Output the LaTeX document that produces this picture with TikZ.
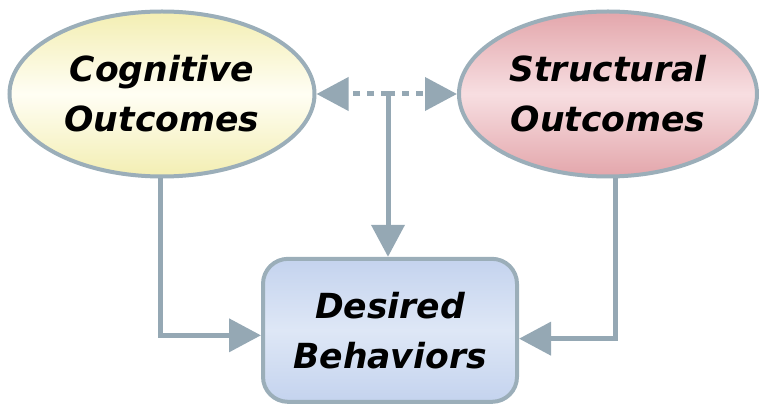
\documentclass[tikz,border=0pt]{standalone}
\usepackage{fontspec}
\setmainfont{DejaVu Sans}
\usetikzlibrary{shapes.geometric,arrows.meta}
\definecolor{linkgray}{HTML}{95A8B4}
\definecolor{rimgray}{HTML}{9BAEB9}
\definecolor{cogedge}{HTML}{F3EEB2}
\definecolor{cogmid}{HTML}{FFFEF4}
\definecolor{stredge}{HTML}{E3A6AB}
\definecolor{strmid}{HTML}{F7DEE1}
\definecolor{behedge}{HTML}{C4D3EE}
\definecolor{behmid}{HTML}{DEE7F6}
\tikzset{
  outcome/.style={ellipse, draw=rimgray, line width=0.12cm, inner sep=0pt,
    minimum height=4.95cm, align=center, font=\fontsize{29.5}{42.5}\selectfont\bfseries\itshape},
  cogfill/.style={top color=cogedge, bottom color=cogedge, middle color=cogmid},
  strfill/.style={top color=stredge, bottom color=stredge, middle color=strmid},
  behavior/.style={rectangle, rounded corners=0.75cm, draw=rimgray, line width=0.12cm,
    minimum width=7.62cm, minimum height=4.29cm, align=center,
    top color=behedge, bottom color=behedge, middle color=behmid,
    font=\fontsize{29.5}{42.5}\selectfont\bfseries\itshape},
  link/.style={draw=linkgray, line width=0.15cm, -{Triangle[length=0.96cm,width=0.98cm]}},
  dotlink/.style={link, dash pattern=on 0.2cm off 0.22cm},
}

\begin{document}
\begin{tikzpicture}
\useasboundingbox (0,0) rectangle (22.77,12.15);
\node[outcome, cogfill, minimum width=9.15cm] (cog) at (4.86,9.33) {Cognitive\\Outcomes};
\node[outcome, strfill, minimum width=8.94cm] (str) at (18.24,9.33) {Structural\\Outcomes};
\node[behavior] (beh) at (11.70,2.24) {Desired\\Behaviors};
\coordinate (hub) at (11.64,9.33);
\draw[dotlink] (hub) -- (cog);
\draw[dotlink] (hub) -- (str);
\draw[link] (hub) -- (hub |- beh.north);
\draw[link] ([xshift=-0.06cm]cog.south) |- ([yshift=-0.15cm]beh.west);
\draw[link] ([xshift=0.21cm]str.south) |- ([yshift=-0.25cm]beh.east);
\end{tikzpicture}
\end{document}
